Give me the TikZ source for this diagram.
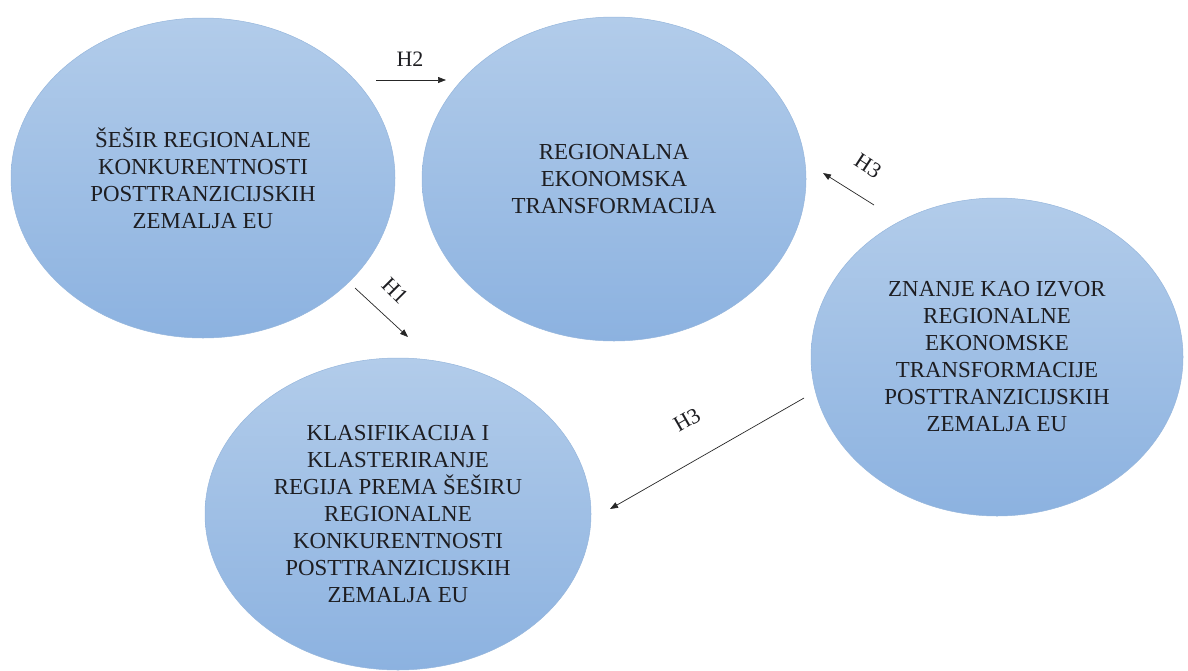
\documentclass[tikz,border=0pt]{standalone}
\usepackage{fontspec}
\setmainfont{Liberation Serif}
\usetikzlibrary{shapes.geometric,arrows.meta}
\definecolor{ctop}{RGB}{178,204,234}
\definecolor{cbot}{RGB}{140,178,224}
\definecolor{cedge}{RGB}{150,182,220}
\definecolor{ctext}{RGB}{30,30,34}
\tikzset{
  bubble/.style={ellipse, inner sep=0pt, top color=ctop, bottom color=cbot,
    draw=cedge, line width=0.5pt, align=center, text=ctext,
    font=\rmfamily\fontsize{22.9}{27}\selectfont},
  conn/.style={-{Triangle[length=8pt,width=6pt]}, line width=0.7pt, draw=black!85},
  hlab/.style={font=\rmfamily\fontsize{22}{26}\selectfont, text=ctext, inner sep=0pt}
}
\begin{document}
\begin{tikzpicture}[x=1pt,y=-1pt]
\useasboundingbox (0,0) rectangle (1188,670);
\node[bubble, minimum width=384pt, minimum height=320pt] (sesir) at (203,178)
  {ŠEŠIR REGIONALNE\\KONKURENTNOSTI\\POSTTRANZICIJSKIH\\ZEMALJA EU};
\node[bubble, minimum width=384pt, minimum height=324pt] (reg) at (614,179)
  {REGIONALNA\\EKONOMSKA\\TRANSFORMACIJA};
\node[bubble, minimum width=386pt, minimum height=312pt] (klas) at (398,514)
  {KLASIFIKACIJA I\\KLASTERIRANJE\\REGIJA PREMA ŠEŠIRU\\REGIONALNE\\KONKURENTNOSTI\\POSTTRANZICIJSKIH\\ZEMALJA EU};
\node[bubble, minimum width=372pt, minimum height=318pt] (znanje) at (997,357)
  {ZNANJE KAO IZVOR\\REGIONALNE\\EKONOMSKE\\TRANSFORMACIJE\\POSTTRANZICIJSKIH\\ZEMALJA EU};

\coordinate (h2s) at (376,80);
\coordinate (h2e) at (446,80);
\coordinate (h3as) at (874,205);
\coordinate (h3ae) at (823,173);
\coordinate (h1s) at (355,288);
\coordinate (h1e) at (408,337);
\coordinate (h3bs) at (804,398);
\coordinate (h3be) at (610,509);

\draw[conn] (h2s) -- (h2e);
\draw[conn] (h3as) -- (h3ae);
\draw[conn] (h1s) -- (h1e);
\draw[conn] (h3bs) -- (h3be);

\node[hlab] (l2) at (410,59) {H2};
\node[hlab, rotate=-33] (l3a) at (868,166) {H3};
\node[hlab, rotate=-45] (l1) at (395,291) {H1};
\node[hlab, rotate=30] (l3b) at (687,420) {H3};
\end{tikzpicture}
\end{document}
